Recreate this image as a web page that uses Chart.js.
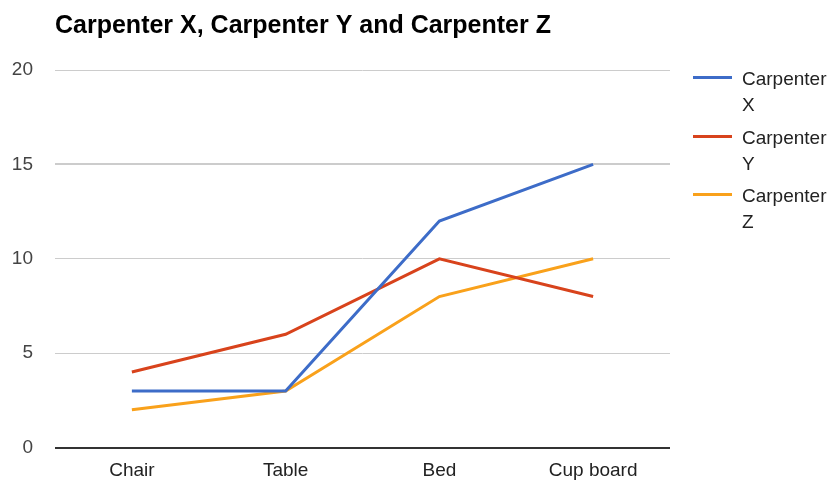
<!DOCTYPE html>
<html lang="en">
<head>
    <meta charset="UTF-8">
    <title>Carpenter X, Carpenter Y and Carpenter Z</title>
    <script src="https://cdn.jsdelivr.net/npm/chart.js"></script>
    <style>
        body { margin: 0; background: #fff; font-family: "Liberation Sans", Arial, sans-serif; }
        #wrap { position: relative; width: 834px; height: 481px; }
        #legend { position: absolute; left: 693px; top: 66px; }
        .item { position: relative; height: 58.5px; }
        .swatch { position: absolute; left: 0; top: 10px; width: 39px; height: 3px; }
        .txt { position: absolute; left: 49px; top: 0; width: 90px; font-size: 19px; line-height: 26px; color: #222; }
    </style>
</head>
<body>
    <div id="wrap">
        <canvas id="myChart" width="834" height="481"></canvas>
        <div id="legend"></div>
    </div>

    <script>
        const categories = ['Chair', 'Table', 'Bed', 'Cup board'];
        const carpenterX = [3, 3, 12, 15];
        const carpenterY = [4, 6, 10, 8];
        const carpenterZ = [2, 3, 8, 10];
        const yTicks = [0, 5, 10, 15, 20];

        const series = [
            { label: 'Carpenter X', data: carpenterX, color: '#3d6cc8' },
            { label: 'Carpenter Y', data: carpenterY, color: '#d8431c' },
            { label: 'Carpenter Z', data: carpenterZ, color: '#f9a11b' }
        ];

        // legenda em HTML porque o texto quebra em duas linhas
        const legend = document.getElementById('legend');
        series.forEach(s => {
            const item = document.createElement('div');
            item.className = 'item';
            item.innerHTML = '<div class="swatch" style="background:' + s.color + '"></div>' +
                '<div class="txt">' + s.label + '</div>';
            legend.appendChild(item);
        });

        const ctx = document.getElementById('myChart').getContext('2d');
        new Chart(ctx, {
            type: 'line',
            data: {
                labels: categories,
                datasets: series.map(s => ({
                    label: s.label,
                    data: s.data,
                    borderColor: s.color,
                    backgroundColor: s.color,
                    borderWidth: 3,
                    pointRadius: 0,
                    tension: 0
                }))
            },
            options: {
                responsive: false,
                animation: false,
                layout: { padding: { left: 10, right: 164, top: 10, bottom: 0 } },
                scales: {
                    x: {
                        offset: true,
                        afterFit: axis => { axis.height = 33; },
                        grid: { display: false, drawTicks: false },
                        border: { display: false },
                        ticks: {
                            color: '#222',
                            font: { family: 'Liberation Sans', size: 19 },
                            padding: 12
                        }
                    },
                    y: {
                        min: 0,
                        max: 20,
                        afterBuildTicks: axis => { axis.ticks = yTicks.map(v => ({ value: v })); },
                        afterFit: axis => { axis.width = 45; },
                        border: { display: false },
                        grid: {
                            color: c => c.tick.value === 0 ? '#333' : '#ccc',
                            lineWidth: c => (c.tick.value === 0 || c.tick.value === 15) ? 2 : 1,
                            drawTicks: false
                        },
                        ticks: {
                            color: '#444',
                            font: { family: 'Liberation Sans', size: 19 },
                            padding: 22
                        }
                    }
                },
                plugins: {
                    legend: { display: false },
                    tooltip: { enabled: false },
                    title: {
                        display: true,
                        fullSize: false,
                        text: 'Carpenter X, Carpenter Y and Carpenter Z',
                        align: 'start',
                        color: '#000',
                        font: { family: 'Liberation Sans', size: 25, weight: 'bold' },
                        padding: { top: 1, bottom: 29 }
                    }
                }
            }
        });
    </script>
</body>
</html>
